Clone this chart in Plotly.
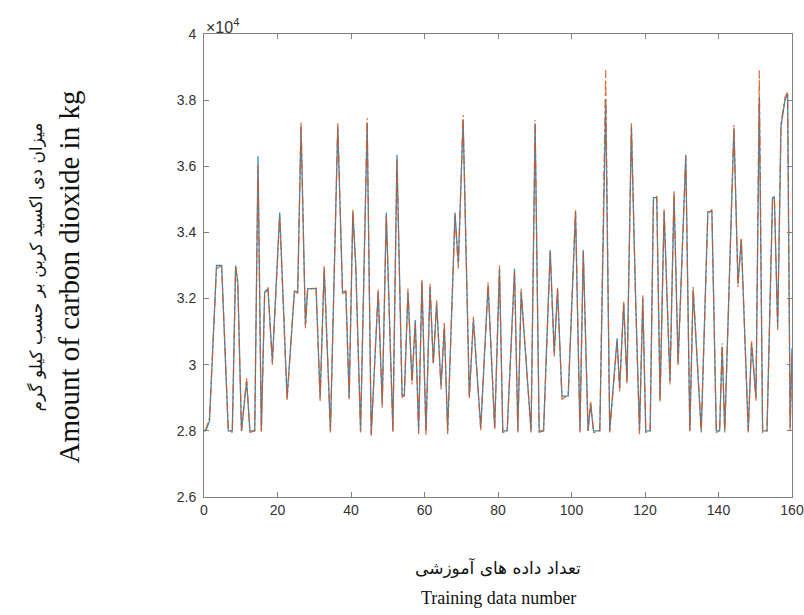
import plotly.graph_objects as go

# Sample positions (training data number)
X = [
    0.0, 0.5, 1.5, 3.4, 4.8, 6.6, 7.7, 8.6, 9.2, 10.2,
    11.6, 12.5, 13.8, 14.7, 15.6, 16.5, 17.4, 18.6, 20.6, 22.6,
    24.6, 25.5, 26.4, 27.6, 28.2, 30.5, 31.6, 32.7, 34.4, 36.4,
    37.7, 38.6, 39.5, 40.5, 41.3, 42.6, 44.4, 45.5, 47.4, 48.5,
    49.6, 51.4, 52.5, 53.9, 54.5, 55.5, 56.6, 57.5, 58.4, 59.3,
    60.4, 61.5, 62.4, 63.3, 64.5, 65.4, 66.3, 68.3, 69.2, 69.6,
    70.5, 72.2, 73.3, 75.3, 77.3, 79.1, 80.4, 81.3, 82.5, 84.5,
    85.4, 86.3, 89.0, 90.1, 91.2, 92.4, 94.2, 95.3, 96.2, 97.4,
    99.1, 101.1, 102.3, 103.2, 104.5, 105.2, 106.0, 107.7, 109.3, 110.4,
    112.4, 113.1, 114.2, 115.1, 116.3, 117.4, 118.5, 119.4, 120.2, 121.4,
    122.3, 123.2, 124.1, 125.2, 126.8, 127.9, 129.0, 131.1, 132.2, 133.1,
    135.3, 137.1, 138.2, 139.4, 140.3, 141.0, 141.7, 144.2, 145.3, 146.2,
    148.1, 149.0, 150.2, 151.1, 152.0, 153.2, 154.7, 155.2, 156.1, 157.0,
    158.1, 158.8, 159.5, 160.0]

# Actual CO2 amount (kg)
ACTUAL = [
    28000, 28000, 28300, 33000, 33000, 28000, 28000, 33000, 32500, 28000,
    29500, 28000, 28000, 36300, 28000, 32200, 32300, 30100, 34600, 29000,
    32200, 32200, 37200, 31200, 32300, 32300, 29000, 32900, 28000, 37200,
    32200, 32200, 29000, 34600, 33000, 28000, 37300, 27900, 32200, 28800,
    34600, 28000, 36350, 29100, 29050, 32200, 29500, 31350, 28000, 32500,
    28000, 32350, 30050, 31850, 29350, 31150, 28000, 34600, 33050, 34450,
    37400, 29050, 31350, 28100, 32400, 28100, 32900, 28000, 28000, 32900,
    28000, 32200, 28000, 37300, 28000, 28000, 33470, 30350, 32250, 29050,
    29050, 34630, 28000, 33470, 28000, 28800, 28000, 28000, 38000, 28000,
    30800, 29300, 31850, 29500, 37200, 32200, 28000, 32000, 28000, 28000,
    35050, 35050, 28950, 34630, 29500, 35150, 30050, 36350, 28000, 32250,
    28000, 34630, 34630, 28000, 28000, 30550, 28000, 37150, 32450, 33780,
    28000, 30650, 29000, 38100, 28000, 28000, 35050, 35050, 31150, 37200,
    38000, 38200, 28100, 30500]

# Predicted CO2 amount (kg)
PREDICTED = [
    28000, 28050, 28400, 32900, 33000, 28050, 27950, 32950, 32400, 28000,
    29600, 27950, 28000, 36000, 27950, 32100, 32350, 30000, 34500, 28900,
    32250, 32150, 37350, 31100, 32250, 32350, 28900, 33000, 27950, 37300,
    32100, 32250, 28950, 34700, 32900, 27950, 37450, 27850, 32300, 28700,
    34500, 27950, 36200, 29000, 29100, 32300, 29400, 31250, 27900, 32600,
    27850, 32450, 30000, 31950, 29250, 31300, 27900, 34500, 32900, 34550,
    37550, 28950, 31450, 28000, 32500, 28050, 33000, 27950, 28000, 32800,
    27950, 32300, 27950, 37400, 27950, 28000, 33400, 30250, 32350, 28950,
    29100, 34700, 27950, 33400, 28000, 28900, 27950, 28000, 38900, 27950,
    30700, 29200, 31900, 29400, 37300, 32100, 27900, 32100, 27950, 28000,
    34950, 35100, 28850, 34700, 29400, 35250, 29950, 36300, 27950, 32350,
    27950, 34550, 34700, 27950, 28000, 30650, 27950, 37250, 32350, 33850,
    27950, 30750, 28900, 38900, 27950, 28000, 34950, 35100, 31050, 37300,
    38100, 38250, 28000, 30400]

Y_TICKS = [26000, 28000, 30000, 32000, 34000, 36000, 38000, 40000]
Y_TICK_TEXT = ["2.6", "2.8", "3", "3.2", "3.4", "3.6", "3.8", "4"]
X_TICKS = [0, 20, 40, 60, 80, 100, 120, 140, 160]

fig = go.Figure()
fig.add_trace(go.Scatter(x=X, y=ACTUAL, mode="lines",
                         line=dict(color="#3B8DBA", width=1.3),
                         showlegend=False))
fig.add_trace(go.Scatter(x=X, y=PREDICTED, mode="lines",
                         line=dict(color="#D95319", width=1.2, dash="dashdot"),
                         opacity=0.85, showlegend=False))

axis_common = dict(showgrid=False, zeroline=False, showline=True,
                   linecolor="#808080", linewidth=1, mirror="ticks",
                   ticks="inside", ticklen=5, tickcolor="#808080",
                   ticklabeloverflow="allow", automargin=False,
                   tickfont=dict(family="Liberation Sans, Arial", size=14, color="#333333"))

fig.update_xaxes(range=[0, 160], tickvals=X_TICKS, **axis_common)
fig.update_yaxes(range=[26000, 40000], tickvals=Y_TICKS, ticktext=Y_TICK_TEXT,
                 ticklabelstandoff=4, **axis_common)

fig.update_layout(
    width=804, height=615,
    margin=dict(l=204, r=12, t=34, b=118),
    paper_bgcolor="white", plot_bgcolor="white",
    annotations=[
        dict(text="×10<sup>4</sup>", xref="paper", yref="paper", x=0.0, y=1.0,
             xanchor="left", yanchor="bottom", showarrow=False, yshift=-4,
             font=dict(family="Liberation Sans, Arial", size=16, color="#333333")),
        dict(text="میزان دی اکسید کربن بر حسب کیلو گرم", xref="paper", yref="paper",
             x=0, y=0.5, xanchor="center", yanchor="middle", xshift=-169, yshift=-2,
             textangle=-90, showarrow=False,
             font=dict(family="DejaVu Sans", size=17, color="#111111")),
        dict(text="Amount of carbon dioxide in kg", xref="paper", yref="paper",
             x=0, y=0.5, xanchor="center", yanchor="middle", xshift=-136, yshift=-12,
             textangle=-90, showarrow=False,
             font=dict(family="Liberation Serif, Times New Roman", size=29, color="#111111")),
        dict(text="تعداد داده های آموزشی", xref="paper", yref="paper",
             x=0.5, y=0, xanchor="center", yanchor="middle", yshift=-70,
             showarrow=False,
             font=dict(family="DejaVu Sans", size=17, color="#111111")),
        dict(text="Training data number", xref="paper", yref="paper",
             x=0.5, y=0, xanchor="center", yanchor="middle", yshift=-101,
             showarrow=False,
             font=dict(family="Liberation Serif, Times New Roman", size=18, color="#111111")),
    ],
)

fig.write_html("out.html")
